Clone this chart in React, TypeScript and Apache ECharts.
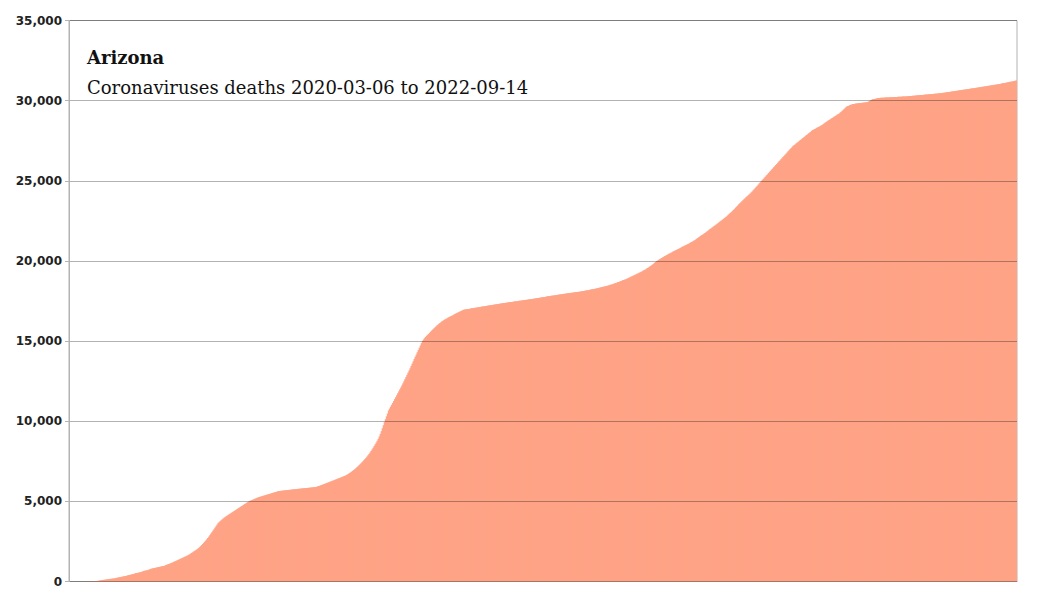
import React, { useEffect, useRef } from 'react';
import * as echarts from 'echarts';

// cumulative deaths, one value per day from 2020-03-06
const deaths2020 = [
  0, 0, 0, 0, 0, 0, 0, 0, 0, 0, 0, 0, 0, 0,
  1, 2, 2, 3, 5, 6, 8, 13, 15, 17, 20, 24, 29, 32, 41, 52, 65, 80,
  88, 97, 108, 115, 122, 131, 142, 150, 162, 169, 180, 184, 193, 208, 229, 236, 255,
  266, 275, 293, 304, 320, 330, 348, 362, 380, 395, 410, 426, 448, 455, 480, 500,
  517, 532, 542, 562, 577, 594, 618, 643, 665, 679, 689, 704, 725, 747, 770, 800,
  812, 829, 841, 857, 869, 886, 897, 914, 925, 941, 953, 968,
  990, 1019, 1042, 1070, 1091, 1119, 1141, 1168,
  1196, 1229, 1258, 1286, 1318, 1346, 1377, 1407, 1436, 1468, 1497, 1527, 1557, 1588, 1617, 1648,
  1690, 1729, 1777, 1815, 1864, 1900, 1950, 1988, 2037, 2080,
  2142, 2206, 2272, 2340, 2410, 2482, 2556, 2632, 2714, 2800,
  2888, 2985, 3072, 3170, 3259, 3357, 3446, 3548, 3640,
  3703, 3764, 3823, 3879, 3932, 3982, 4030, 4076, 4120, 4160,
  4203, 4245, 4287, 4330, 4371, 4412, 4455, 4497, 4539, 4580,
  4622, 4665, 4705, 4748, 4790, 4832, 4873, 4916, 4957, 5000,
  5030, 5058, 5086, 5114, 5142, 5170, 5196, 5224, 5250,
  5270, 5290, 5309, 5329, 5348, 5368, 5387, 5407, 5426, 5446, 5465, 5485, 5504, 5524, 5543, 5563, 5582, 5602, 5621, 5640,
  5648, 5655, 5662, 5670, 5677, 5685, 5692, 5699, 5707, 5714, 5722, 5729, 5736, 5744, 5751, 5758, 5765, 5773, 5780,
  5786, 5793, 5799, 5806, 5812, 5819, 5825, 5832, 5838, 5845, 5851, 5858, 5864, 5871, 5877, 5884, 5890,
  5912, 5933, 5955, 5978, 6002, 6026, 6050, 6075, 6099, 6124, 6149, 6174, 6200,
  6225, 6250, 6275, 6300, 6326, 6352, 6378, 6404, 6430, 6455, 6480, 6506, 6532, 6558, 6584, 6610,
  6646, 6684, 6724, 6766, 6810, 6856, 6904, 6954, 7006, 7060, 7116, 7174, 7240,
  7302, 7366, 7432, 7500, 7570, 7642, 7716, 7794, 7876, 7960,
  8050, 8145, 8243, 8345, 8450, 8558, 8668, 8783,
];

const deaths2021 = [
  8900,
  9050, 9210, 9380, 9560, 9750, 9940, 10125, 10305, 10480, 10670,
  10790, 10908, 11023, 11141, 11261, 11380, 11500,
  11620, 11742, 11863, 11985, 12107, 12230,
  12363, 12496, 12629, 12762, 12895, 13028, 13160,
  13300, 13445, 13590, 13735, 13880, 14020, 14160, 14300, 14440, 14585, 14725, 14865, 15000,
  15095, 15180, 15255, 15325, 15390, 15450,
  15520, 15588, 15654, 15718, 15781, 15843, 15904, 15964, 16022, 16080,
  16132, 16182, 16229, 16274, 16316, 16356, 16394, 16431, 16466, 16500,
  16534, 16568, 16601, 16634, 16667, 16699, 16731, 16763, 16795, 16826, 16857, 16888, 16918, 16950,
  16962, 16974, 16985, 16996, 17007, 17018, 17029, 17040, 17051, 17062, 17073, 17084, 17095, 17106, 17117, 17128, 17139, 17150,
  17161, 17171, 17182, 17192, 17203, 17214, 17224, 17235, 17245, 17256, 17267, 17277, 17288, 17298, 17309, 17320, 17330,
  17339, 17349, 17358, 17368, 17377, 17386, 17396, 17405, 17415, 17424, 17433, 17443, 17452, 17462, 17471, 17480,
  17489, 17499, 17508, 17518, 17527, 17536, 17546, 17555, 17565, 17574, 17583, 17593, 17602, 17612, 17621, 17630,
  17641, 17651, 17662, 17672, 17683, 17694, 17704, 17715, 17725, 17736, 17747, 17757, 17768, 17778, 17789, 17800,
  17810, 17820, 17830, 17840, 17850, 17860, 17870, 17880, 17890, 17900, 17910, 17920, 17930, 17940, 17950, 17960, 17970,
  17979, 17987, 17996, 18005, 18014, 18022, 18031, 18040, 18049, 18057, 18066, 18075, 18084, 18092, 18101, 18110,
  18122, 18135, 18148, 18161, 18174, 18187, 18200, 18213, 18226, 18240, 18253, 18266, 18280, 18293, 18306, 18320,
  18335, 18351, 18367, 18384, 18401, 18418, 18436, 18454, 18473, 18492, 18511, 18531, 18551, 18572, 18594, 18617, 18640,
  18664, 18688, 18712, 18737, 18762, 18787, 18812, 18838, 18864, 18891, 18920, 18950,
  18980, 19010, 19040, 19070, 19100, 19131, 19162, 19194, 19226, 19258, 19291, 19325, 19360,
  19396, 19434, 19473, 19513, 19554, 19596, 19639, 19683, 19728, 19774, 19821, 19880, 19935, 19990,
  20030, 20070, 20110, 20148, 20186, 20224, 20262, 20300, 20338, 20376, 20413, 20450,
  20483, 20516, 20549, 20582, 20615, 20648, 20681, 20714, 20747, 20780, 20813, 20846, 20879, 20912, 20945, 20978, 21011, 21044, 21077, 21110, 21143, 21177, 21210,
  21252, 21295, 21339, 21383, 21428, 21473, 21518, 21564, 21610, 21656, 21702, 21748, 21795, 21842, 21890, 21940,
  21988, 22036, 22084, 22132, 22180, 22228, 22276, 22324, 22373, 22422, 22472, 22522, 22572, 22622, 22672, 22721, 22770,
  22830, 22891, 22952, 23013, 23075, 23137, 23200, 23263, 23327, 23392, 23460, 23530, 23600,
  23662, 23724, 23785, 23846, 23907, 23968, 24028, 24088, 24149, 24209, 24270, 24330,
];

const deaths2022 = [
  24403, 24476, 24549, 24622, 24695, 24768, 24841, 24914, 24987, 25060,
  25131, 25202, 25273, 25344, 25415, 25486, 25557, 25628, 25699, 25770,
  25841, 25912, 25983, 26054, 26125, 26196, 26267, 26338, 26409, 26480,
  26551, 26622, 26693, 26764, 26835, 26906, 26977, 27048, 27130,
  27182, 27234, 27286, 27338, 27390, 27442, 27494, 27546, 27598, 27650,
  27702, 27754, 27806, 27858, 27910, 27962, 28014, 28066, 28118, 28170,
  28203, 28236, 28269, 28302, 28335, 28368, 28400,
  28444, 28488, 28533, 28577, 28622, 28666, 28711, 28755, 28800,
  28841, 28882, 28923, 28964, 29005, 29046, 29087, 29128, 29169, 29210,
  29270, 29330, 29390, 29450, 29510, 29570, 29630,
  29657, 29684, 29711, 29737, 29764, 29790,
  29798, 29806, 29814, 29822, 29830, 29838, 29846, 29854, 29862, 29870, 29877, 29884, 29892, 29900,
  29935, 29975, 30010, 30045, 30080,
  30093, 30106, 30119, 30132, 30145, 30158, 30170,
  30174, 30178, 30181, 30185, 30189, 30192, 30196, 30200, 30203, 30207, 30211, 30214, 30218, 30222,
  30226, 30229, 30233, 30237, 30240, 30244, 30248, 30251, 30255, 30259, 30262, 30266, 30270,
  30276, 30282, 30288, 30294, 30300, 30306, 30312, 30318, 30323, 30329, 30335, 30341, 30347, 30353, 30359, 30365,
  30371, 30377, 30383, 30389, 30395, 30401, 30406, 30412, 30418, 30424, 30430, 30436, 30442, 30448, 30454, 30460,
  30470, 30479, 30489, 30499, 30508, 30518, 30528, 30538, 30547, 30557, 30567, 30576, 30586, 30596, 30605, 30615,
  30625, 30634, 30644, 30654, 30664, 30673, 30683, 30693, 30702, 30712, 30722, 30731, 30741, 30751, 30760, 30770,
  30780, 30791, 30801, 30812, 30822, 30832, 30843, 30853, 30864, 30874, 30884, 30895, 30905,
  30916, 30926, 30936, 30947, 30957, 30968, 30978, 30988, 30999, 31009, 31020, 31030, 31040,
  31053, 31066, 31079, 31093, 31106, 31119, 31132, 31145, 31158, 31171, 31184, 31197, 31211, 31224, 31237, 31250,
];

const startDate = '2020-03-06';
const yTicks = [0, 5000, 10000, 15000, 20000, 25000, 30000, 35000];
const titleText = 'Arizona';
const subtitleText = 'Coronaviruses deaths 2020-03-06 to 2022-09-14';

const App: React.FC = () => {
  const chartRef = useRef<HTMLDivElement>(null);

  useEffect(() => {
    if (!chartRef.current) return;
    const chart = echarts.init(chartRef.current, null, { renderer: 'svg' });

    const values = [...deaths2020, ...deaths2021, ...deaths2022];
    const start = new Date(startDate + 'T00:00:00Z').getTime();
    const days = values.map((_, i) => new Date(start + i * 86400000).toISOString().slice(0, 10));

    const option: echarts.EChartsOption = {
      animation: false,
      backgroundColor: '#ffffff',
      grid: {
        left: 69,
        right: 20,
        top: 20.5,
        bottom: 18.5,
        show: true,
        borderColor: '#b3b3b3',
        borderWidth: 1,
      },
      xAxis: {
        type: 'category',
        data: days,
        axisLabel: { show: false },
        axisTick: { show: false },
        axisLine: { lineStyle: { color: '#b3b3b3', width: 1 } },
      },
      yAxis: {
        type: 'value',
        min: yTicks[0],
        max: yTicks[yTicks.length - 1],
        interval: 5000,
        z: 5,
        axisLine: { show: true, lineStyle: { color: '#b3b3b3', width: 1 } },
        axisTick: { show: true, length: 4, lineStyle: { color: '#b3b3b3' } },
        splitLine: { lineStyle: { color: 'rgba(0,0,0,0.3)', width: 1 } },
        axisLabel: {
          margin: 7,
          color: '#222',
          fontFamily: 'DejaVu Sans',
          fontWeight: 'bold',
          fontSize: 12,
          formatter: (v: number) => v.toLocaleString('en-US'),
        },
      },
      series: [
        {
          type: 'bar',
          data: values,
          barWidth: 2.2,
          itemStyle: { color: '#ffa386' },
          z: 2,
        },
      ],
      graphic: [
        {
          type: 'text',
          x: 87,
          y: 57,
          z: 10,
          style: {
            text: titleText,
            font: 'bold 18px "DejaVu Serif"',
            fill: '#111',
            textVerticalAlign: 'middle',
          },
        },
        {
          type: 'text',
          x: 87,
          y: 87,
          z: 10,
          style: {
            text: subtitleText,
            font: '18px "DejaVu Serif"',
            fill: '#111',
            textVerticalAlign: 'middle',
          },
        },
      ],
    };
    chart.setOption(option);

    return () => {
      chart.dispose();
    };
  }, []);

  return (
    <div
      ref={chartRef}
      style={{ position: 'fixed', left: 0, top: 0, width: '1037px', height: '600px' }}
    />
  );
};

export default App;
